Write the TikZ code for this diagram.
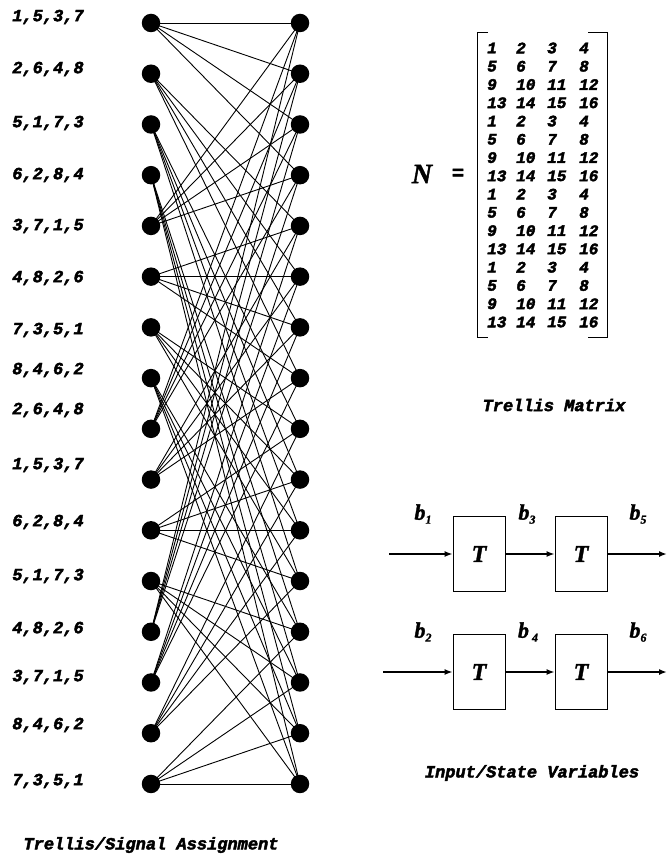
\documentclass[tikz,border=0pt]{standalone}
\usepackage{fontspec}
\newfontfamily\lab[FakeBold=2.5]{Liberation Mono Bold Italic}
\newfontfamily\sym[FakeBold=1.5]{Liberation Serif Bold Italic}
\usetikzlibrary{arrows.meta}
\begin{document}
\begin{tikzpicture}[x=1pt,y=-1pt,
  dot/.style={circle,fill=black,minimum size=18.5pt,inner sep=0pt},
  edge/.style={line width=0.9pt},
  lbl/.style={font=\lab\fontsize{17}{20}\selectfont,inner sep=0pt},
  mnum/.style={font=\lab\fontsize{16}{18}\selectfont,inner sep=0pt,anchor=west},
  tbox/.style={draw,line width=0.8pt,minimum width=52pt,minimum height=75pt,inner sep=0pt,font=\sym\fontsize{24}{26}\selectfont},
  arr/.style={line width=2.2pt,-{Latex[length=8pt,width=6pt]}},
  blab/.style={font=\sym\fontsize{22}{24}\selectfont,inner sep=0pt}]
\useasboundingbox (0,0) rectangle (667,858);
% trellis nodes
\foreach \i in {1,...,16}{
  \pgfmathsetmacro{\yy}{23+(\i-1)*50.73}
  \node[dot] (L\i) at (151,\yy) {};
  \node[dot] (R\i) at (300,\yy) {};
}
% trellis edges
\foreach \i in {1,...,16}{
  \pgfmathtruncatemacro{\rr}{mod(\i-1,4)}
  \foreach \c in {1,...,4}{
    \pgfmathtruncatemacro{\j}{4*\rr+\c}
    \draw[edge] (L\i.center) -- (R\j.center);
  }
}
% signal labels
\foreach \i/\t/\y in {1/{1,5,3,7}/17, 2/{2,6,4,8}/69, 3/{5,1,7,3}/123, 4/{6,2,8,4}/175,
  5/{3,7,1,5}/226, 6/{4,8,2,6}/278, 7/{7,3,5,1}/330, 8/{8,4,6,2}/370,
  9/{2,6,4,8}/410, 10/{1,5,3,7}/465, 11/{6,2,8,4}/522, 12/{5,1,7,3}/576,
  13/{4,8,2,6}/629, 14/{3,7,1,5}/677, 15/{8,4,6,2}/725, 16/{7,3,5,1}/781}{
  \node[lbl] (S\i) at (48,\y) {\t};
}
\node[lbl] (t1) at (151,845) {Trellis/Signal Assignment};
% matrix
\node[font=\sym\fontsize{28}{30}\selectfont,inner sep=0pt] (Nn) at (422,174) {N};
\node[font=\lab\fontsize{20}{22}\selectfont,inner sep=0pt] (eq) at (458,174) {=};
\foreach \r in {0,...,15}{
  \pgfmathsetmacro{\yy}{48+\r*18.27}
  \pgfmathtruncatemacro{\base}{4*mod(\r,4)}
  \foreach \c/\xx in {1/487,2/516,3/547,4/579}{
    \pgfmathtruncatemacro{\v}{\base+\c}
    \node[mnum] (m\r-\c) at (\xx,\yy) {\v};
  }
}
\draw[line width=0.8pt] (488,32) -- (477,32) -- (477,337) -- (488,337);
\draw[line width=0.8pt] (588,32) -- (607,32) -- (607,337) -- (588,337);
\node[lbl] (t2) at (554,405) {Trellis Matrix};
% shift registers
\node[tbox] (T1) at (479,554) {T};
\node[tbox] (T2) at (581,554) {T};
\node[tbox] (T3) at (479,672) {T};
\node[tbox] (T4) at (581,672) {T};
\coordinate (in1) at (389,554);
\coordinate (out1) at (667,554);
\coordinate (in2) at (383,672);
\coordinate (out2) at (667,672);
\draw[arr] (in1) -- (T1);
\draw[arr] (T1) -- (T2);
\draw[arr] (T2) -- (out1);
\draw[arr] (in2) -- (T3);
\draw[arr] (T3) -- (T4);
\draw[arr] (T4) -- (out2);
\node[blab] (b1) at (423,514) {b\raisebox{-4pt}{\fontsize{12}{13}\selectfont 1}};
\node[blab] (b3) at (527,514) {b\raisebox{-4pt}{\fontsize{12}{13}\selectfont 3}};
\node[blab] (b5) at (638,514) {b\raisebox{-4pt}{\fontsize{12}{13}\selectfont 5}};
\node[blab] (b2) at (423,632) {b\raisebox{-4pt}{\fontsize{12}{13}\selectfont 2}};
\node[blab] (b4) at (528,632) {b\raisebox{-4pt}{\fontsize{12}{13}\selectfont\ 4}};
\node[blab] (b6) at (638,632) {b\raisebox{-4pt}{\fontsize{12}{13}\selectfont 6}};
\node[lbl] (t3) at (532,773) {Input/State Variables};
\end{tikzpicture}
\end{document}
